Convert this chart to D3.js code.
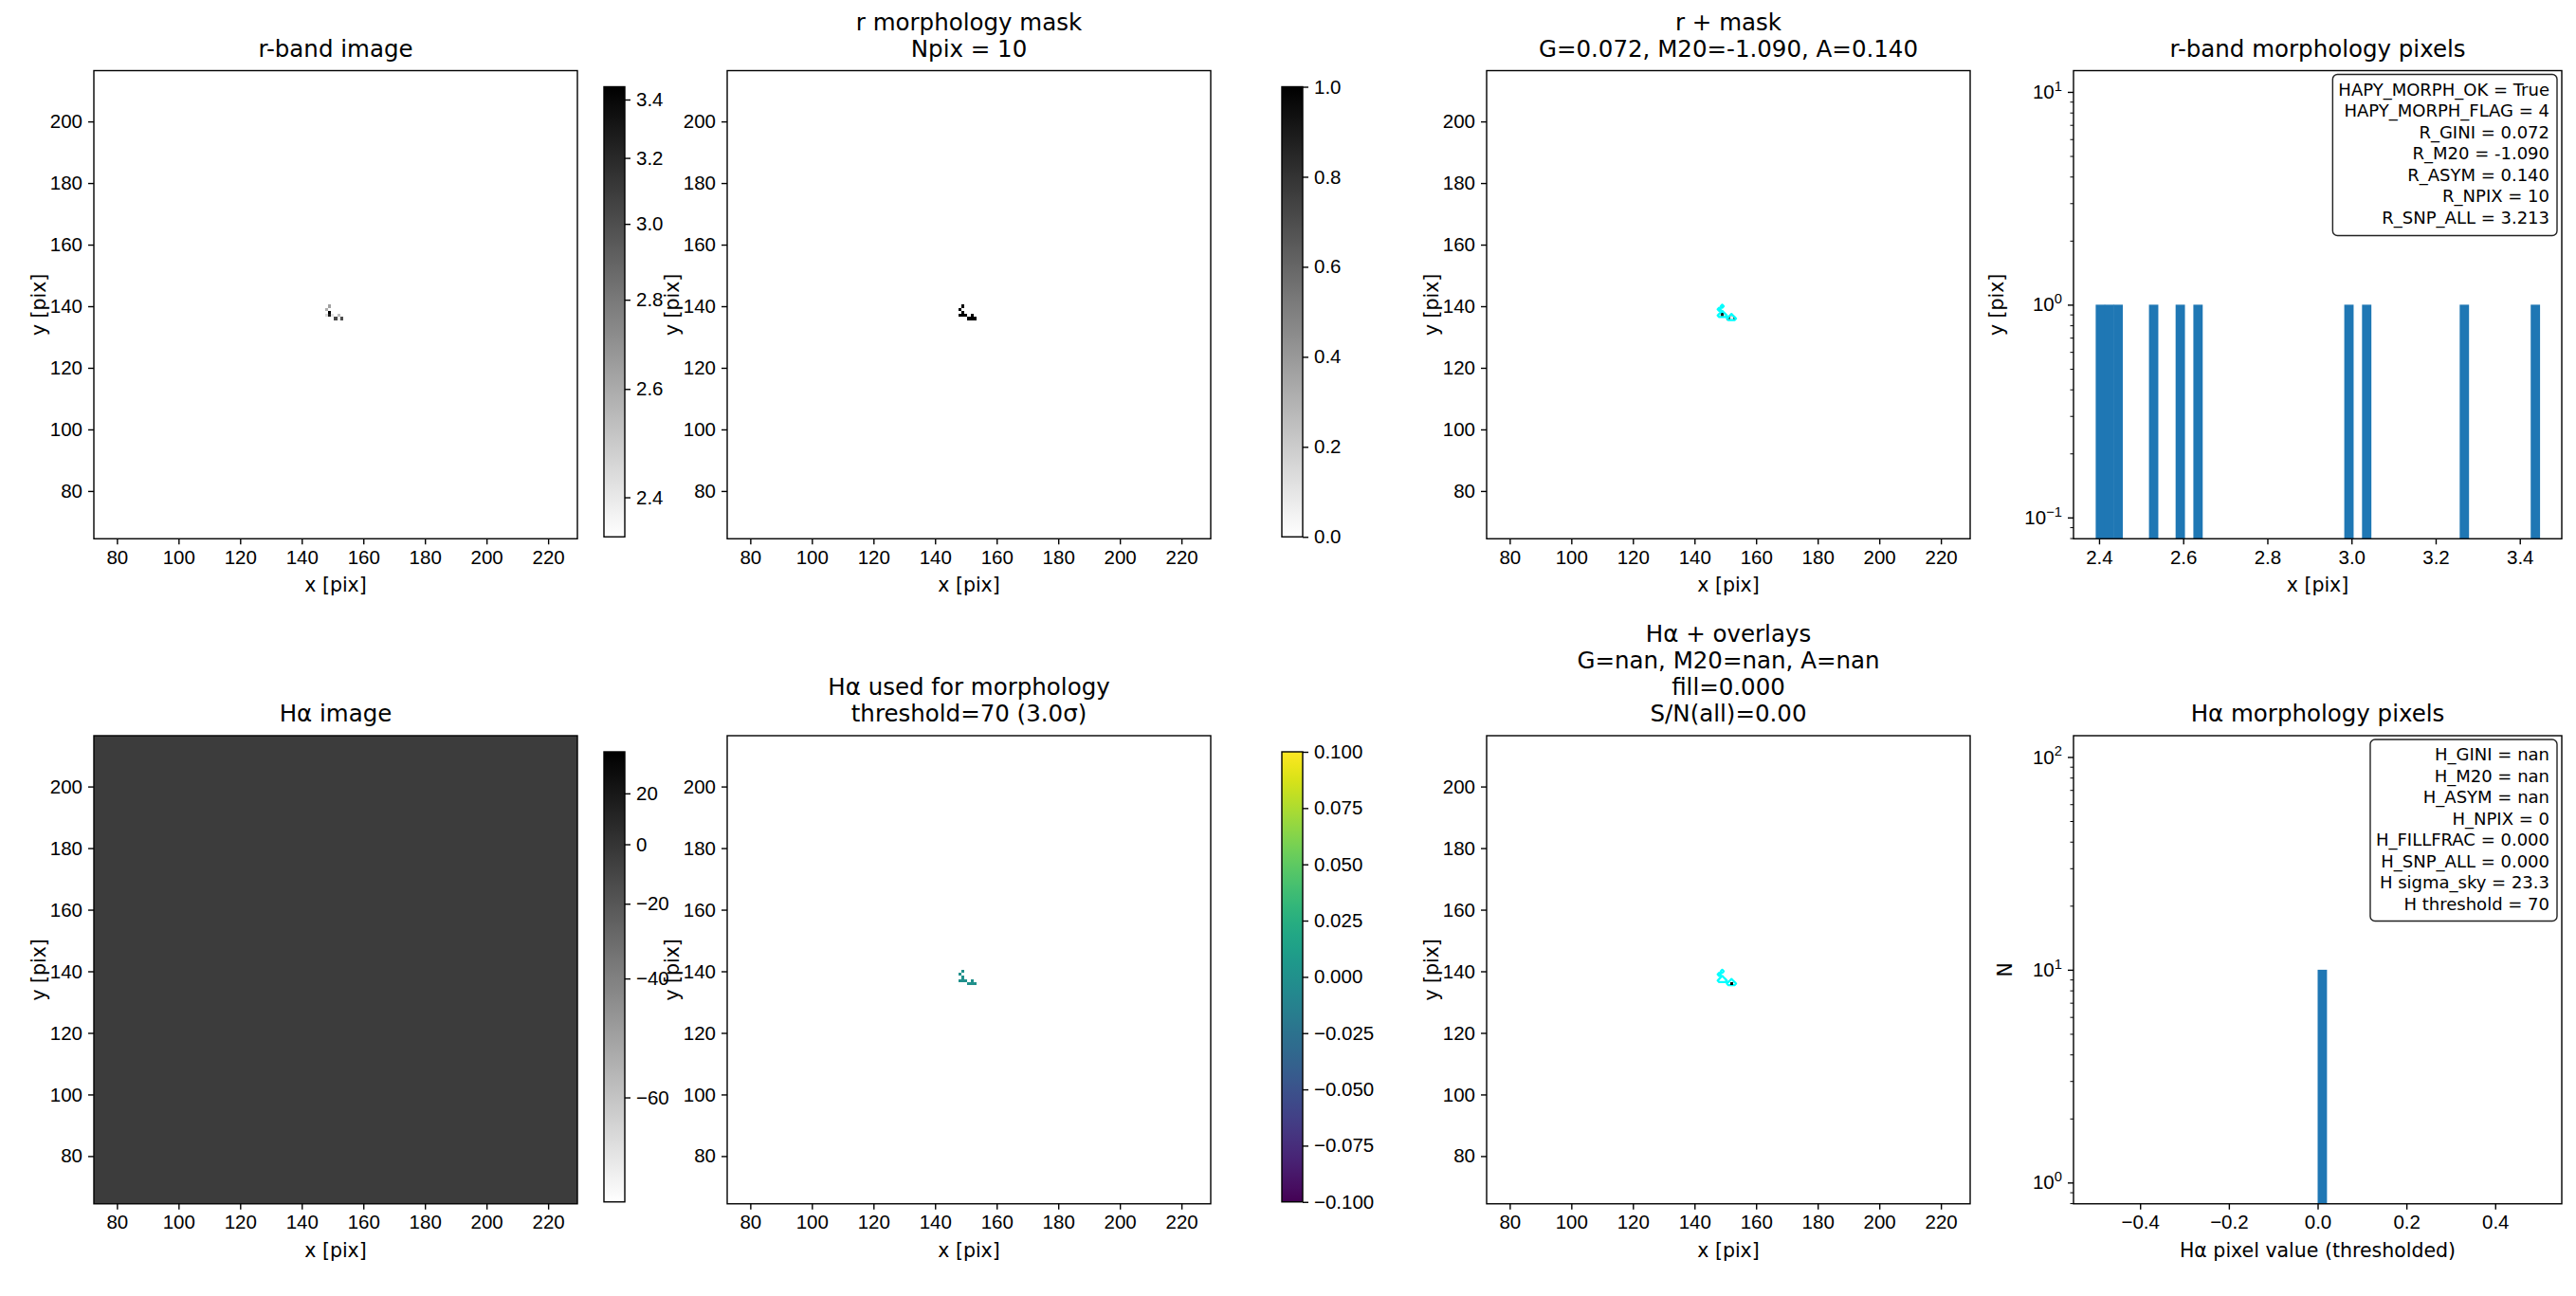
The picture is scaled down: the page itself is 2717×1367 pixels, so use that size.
<!DOCTYPE html>
<html>
<head>
<meta charset="utf-8">
<script src="https://cdn.jsdelivr.net/npm/d3@7"></script>
<style>
  body { margin: 0; background: #fff; }
  svg { display: block; }
</style>
</head>
<body>
<svg id="fig"></svg>
<script>
// ---- data ----
const X_TICKS = [80, 100, 120, 140, 160, 180, 200, 220];
const Y_TICKS = [80, 100, 120, 140, 160, 180, 200];
const IMG_XLIM = [72.5, 229.5];
const IMG_YLIM = [64.5, 216.5];

// r-band pixels of the morphology mask (x, y, value)
const R_PIX_X = [149, 148, 149, 149, 148, 150, 152, 151, 153, 152];
const R_PIX_Y = [140, 139, 138, 137, 137, 137, 137, 136, 136, 136];
const R_PIX_VAL = [2.637, 2.595, 3.447, 3.275, 2.44, 2.42, 2.53, 3.04, 2.997, 2.392];
// log stretch of the r colour bar: vmin, vmax and offset of the log
const R_NORM = [2.337, 3.447];
const R_NORM_OFFSET = 1.56;
const R_CBAR_TICKS = [2.4, 2.6, 2.8, 3.0, 3.2, 3.4];

const MASK_CBAR_TICKS = [0, 0.2, 0.4, 0.6, 0.8, 1.0];

// Hα: sky level (median of the noise), colour interval of the sqrt stretch
const HA_SKY = -5;
const HA_NORM = [-65.6, 38.3];
const HA_CBAR_TICKS = [-60, -40, -20, 0, 20];

// Hα thresholded values inside the mask
const HA_MORPH_VAL = [0, 0, 0, 0, 0, 0, 0, 0, 0, 0];
const HAM_CBAR_LIM = [-0.1, 0.1];
const HAM_CBAR_TICKS = [-0.1, -0.075, -0.05, -0.025, 0, 0.025, 0.05, 0.075, 0.1];
const HA_MARK = [152, 136];

const R_HIST_XTICKS = [2.4, 2.6, 2.8, 3.0, 3.2, 3.4];
const R_HIST_YLIM = [Math.pow(10, -1.1), Math.pow(10, 1.1)];
const R_HIST_YTICKS = [-1, 0, 1];
const H_HIST_RANGE = [-0.5, 0.5];
const H_HIST_XTICKS = [-0.4, -0.2, 0, 0.2, 0.4];
const H_HIST_YLIM = [Math.pow(10, -0.1), Math.pow(10, 2.1)];
const H_HIST_YTICKS = [0, 1, 2];
const N_BINS = 50;

const R_BOX_LINES = ["HAPY_MORPH_OK = True", "HAPY_MORPH_FLAG = 4", "R_GINI = 0.072",
  "R_M20 = -1.090", "R_ASYM = 0.140", "R_NPIX = 10", "R_SNP_ALL = 3.213"];
const H_BOX_LINES = ["H_GINI = nan", "H_M20 = nan", "H_ASYM = nan", "H_NPIX = 0",
  "H_FILLFRAC = 0.000", "H_SNP_ALL = 0.000", "H sigma_sky = 23.3", "H threshold = 70"];

// ---- layout ----
const W = 2717, H = 1367;
const FONT = "DejaVu Sans";
const FS_TICK = 20.5, FS_TITLE = 24.5, FS_BOX = 18;
const BOX_STEP = 22.5;
const COL_X = [99, 767, 1568, 2187];
const ROW_Y = [74.5, 776];
const IMG_W = 510;
const IMG_H = IMG_W * (IMG_YLIM[1] - IMG_YLIM[0]) / (IMG_XLIM[1] - IMG_XLIM[0]);
const HIST_W = 515;
const CBAR_X = [637, 1352];
const CBAR_W = 22;
const BAR_COLOR = "#1f77b4";

const svg = d3.select("#fig").attr("width", W).attr("height", H)
  .attr("font-family", FONT);
svg.append("rect").attr("width", W).attr("height", H).attr("fill", "#fff");
const defs = svg.append("defs");

const grayR = t => d3.interpolateRgb("#ffffff", "#000000")(Math.max(0, Math.min(1, t)));

// scale object usable by d3.axis: inner scale applied to (v - shift)
function shiftedScale(inner, shift, dom) {
  const s = v => inner(v - shift);
  s.copy = () => shiftedScale(inner.copy(), shift, dom);
  s.range = () => inner.range();
  s.domain = () => dom;
  return s;
}
function sqrtNorm(lim, range) {
  return shiftedScale(d3.scaleSqrt().domain([0, lim[1] - lim[0]]).range(range).clamp(true), lim[0], lim);
}
function logNorm(lim, c, range) {
  return shiftedScale(d3.scaleLog().domain([lim[0] - c, lim[1] - c]).range(range).clamp(true), c, lim);
}

function styleAxis(a) {
  a.select(".domain").remove();
  a.selectAll(".tick line").attr("stroke", "#000").attr("stroke-width", 1.4);
  a.selectAll("text").attr("font-size", FS_TICK).attr("fill", "#000");
}

function title(x, y, w, lines) {
  const t = svg.append("text").attr("text-anchor", "middle").attr("font-size", FS_TITLE);
  lines.forEach((s, i) => {
    t.append("tspan").attr("x", x + w / 2)
      .attr("y", y - 15 - (lines.length - 1 - i) * 28).text(s);
  });
}

function yLabel(axisG, x0, yMid, label, gap) {
  const bb = axisG.node().getBBox();
  const lx = x0 + bb.x - gap;
  svg.append("text").attr("transform", `translate(${lx},${yMid}) rotate(-90)`)
    .attr("text-anchor", "middle").attr("font-size", FS_TICK).text(label);
}

function xLabel(x, y, w, h, label) {
  svg.append("text").attr("x", x + w / 2).attr("y", y + h + 56)
    .attr("text-anchor", "middle").attr("font-size", FS_TICK).text(label);
}

function frame(g, w, h) {
  g.append("rect").attr("width", w).attr("height", h)
    .attr("fill", "none").attr("stroke", "#000").attr("stroke-width", 1.4);
}

let clipId = 0;
function imagePanel(col, row, titleLines) {
  const x0 = COL_X[col], y0 = ROW_Y[row];
  const xs = d3.scaleLinear().domain(IMG_XLIM).range([0, IMG_W]);
  const ys = d3.scaleLinear().domain(IMG_YLIM).range([IMG_H, 0]);
  const id = "clip" + (clipId++);
  defs.append("clipPath").attr("id", id).append("rect").attr("width", IMG_W).attr("height", IMG_H);
  const g = svg.append("g").attr("transform", `translate(${x0},${y0})`);
  const plot = g.append("g").attr("clip-path", `url(#${id})`);
  plot.append("rect").attr("width", IMG_W).attr("height", IMG_H).attr("fill", "#fff");

  const ax = g.append("g").attr("transform", `translate(0,${IMG_H})`)
    .call(d3.axisBottom(xs).tickValues(X_TICKS).tickSize(6).tickPadding(6));
  styleAxis(ax);
  const ay = g.append("g")
    .call(d3.axisLeft(ys).tickValues(Y_TICKS).tickSize(6).tickPadding(6));
  styleAxis(ay);

  title(x0, y0, IMG_W, titleLines);
  xLabel(x0, y0, IMG_W, IMG_H, "x [pix]");
  yLabel(ay, x0, y0 + IMG_H / 2, "y [pix]", 5);
  return { g, plot, xs, ys };
}

function drawPixels(p, xsArr, ysArr, colors) {
  p.plot.selectAll(null)
    .data(d3.range(xsArr.length))
    .enter()
    .append("rect")
    .attr("x", i => p.xs(xsArr[i] - 0.5))
    .attr("y", i => p.ys(ysArr[i] + 0.5))
    .attr("width", i => p.xs(xsArr[i] + 0.5) - p.xs(xsArr[i] - 0.5))
    .attr("height", i => p.ys(ysArr[i] - 0.5) - p.ys(ysArr[i] + 0.5))
    .attr("fill", i => colors[i])
    .attr("shape-rendering", "crispEdges");
}

function drawMaskContour(p) {
  const gx0 = d3.min(R_PIX_X) - 3, gy0 = d3.min(R_PIX_Y) - 3;
  const nx = d3.max(R_PIX_X) - gx0 + 4, ny = d3.max(R_PIX_Y) - gy0 + 4;
  const grid = new Array(nx * ny).fill(0);
  R_PIX_X.forEach((x, i) => { grid[(x - gx0) + (R_PIX_Y[i] - gy0) * nx] = 1; });
  const contours = d3.contours().size([nx, ny]).thresholds([0.5])(grid);
  const proj = d3.geoTransform({
    point: function (u, v) { this.stream.point(p.xs(gx0 + u - 0.5), p.ys(gy0 + v - 0.5)); }
  });
  p.plot.selectAll(null)
    .data(contours)
    .enter()
    .append("path")
    .attr("d", d3.geoPath(proj))
    .attr("fill", "none")
    .attr("stroke", "#00ffff")
    .attr("stroke-width", 2.2)
    .attr("stroke-linejoin", "round");
}

let gradId = 0;
function colorbar(col, row, colorFn, scaleFor, ticks, fmt) {
  const x0 = CBAR_X[col];
  const y0 = ROW_Y[row] + 17;
  const h = IMG_H - 19;
  const id = "grad" + (gradId++);
  const grad = defs.append("linearGradient").attr("id", id)
    .attr("x1", 0).attr("y1", 1).attr("x2", 0).attr("y2", 0);
  d3.range(0, 1.0001, 1 / 32).forEach(t => {
    grad.append("stop").attr("offset", t).attr("stop-color", colorFn(t));
  });
  const g = svg.append("g").attr("transform", `translate(${x0},${y0})`);
  g.append("rect").attr("width", CBAR_W).attr("height", h).attr("fill", `url(#${id})`);
  const s = scaleFor([h, 0]);
  const a = g.append("g").attr("transform", `translate(${CBAR_W},0)`)
    .call(d3.axisRight(s).tickValues(ticks).tickFormat(fmt).tickSize(6).tickPadding(6));
  styleAxis(a);
  frame(g, CBAR_W, h);
}

function histPanel(row, values, binDomain, xTicks, xFmt, yLim, yDecades, titleText, xLab, yLab, boxLines) {
  const x0 = COL_X[3], y0 = ROW_Y[row];
  const w = HIST_W, h = IMG_H;
  const step = (binDomain[1] - binDomain[0]) / N_BINS;
  const bins = d3.bin()
    .domain(binDomain)
    .thresholds(d3.range(1, N_BINS).map(i => binDomain[0] + i * step))(values);
  const span = binDomain[1] - binDomain[0];
  const xs = d3.scaleLinear()
    .domain([binDomain[0] - 0.05 * span, binDomain[1] + 0.05 * span]).range([0, w]);
  const ys = d3.scaleLog().domain(yLim).range([h, 0]);

  const id = "clip" + (clipId++);
  defs.append("clipPath").attr("id", id).append("rect").attr("width", w).attr("height", h);
  const g = svg.append("g").attr("transform", `translate(${x0},${y0})`);
  const plot = g.append("g").attr("clip-path", `url(#${id})`);

  plot.selectAll(".bar")
    .data(bins.filter(b => b.length > 0))
    .enter()
    .append("rect")
    .attr("class", "bar")
    .attr("x", b => xs(b.x0))
    .attr("width", b => xs(b.x1) - xs(b.x0) + 0.5)
    .attr("y", b => ys(b.length))
    .attr("height", b => h - ys(b.length))
    .attr("fill", BAR_COLOR);

  const ax = g.append("g").attr("transform", `translate(0,${h})`)
    .call(d3.axisBottom(xs).tickValues(xTicks).tickFormat(xFmt).tickSize(6).tickPadding(6));
  styleAxis(ax);

  // minor log ticks
  const minors = [];
  const lo = Math.floor(Math.log10(yLim[0])), hi = Math.ceil(Math.log10(yLim[1]));
  for (let k = lo; k <= hi; k++) {
    for (let m = 2; m <= 9; m++) {
      const v = m * Math.pow(10, k);
      if (v > yLim[0] && v < yLim[1]) minors.push(v);
    }
  }
  const aMinor = g.append("g")
    .call(d3.axisLeft(ys).tickValues(minors).tickFormat(() => "").tickSize(3.5));
  aMinor.select(".domain").remove();
  aMinor.selectAll(".tick line").attr("stroke", "#000").attr("stroke-width", 1);

  const ay = g.append("g")
    .call(d3.axisLeft(ys).tickValues(yDecades.map(k => Math.pow(10, k)))
      .tickFormat(() => "").tickSize(6).tickPadding(6));
  styleAxis(ay);
  ay.selectAll(".tick text").each(function (d) {
    const t = d3.select(this);
    const k = Math.round(Math.log10(d));
    t.append("tspan").text("10");
    t.append("tspan").attr("dy", "-0.55em").attr("font-size", FS_TICK * 0.72)
      .text(k < 0 ? "\u2212" + (-k) : String(k));
  });

  frame(g, w, h);

  // stats box, top right
  const box = g.append("g");
  const right = w - 5 - 8;
  const top = 4 + 8 + FS_BOX * 0.78;
  const tx = box.append("g");
  boxLines.forEach((s, i) => {
    tx.append("text").attr("x", right).attr("y", top + i * BOX_STEP)
      .attr("text-anchor", "end").attr("font-size", FS_BOX).text(s);
  });
  const bb = tx.node().getBBox();
  box.insert("rect", ":first-child")
    .attr("x", bb.x - 6).attr("y", 4)
    .attr("width", right + 8 - (bb.x - 6)).attr("height", bb.y + bb.height + 8 - 4)
    .attr("rx", 5).attr("ry", 5)
    .attr("fill", "#fff").attr("fill-opacity", 0.8)
    .attr("stroke", "#222").attr("stroke-width", 1.4);

  title(x0, y0, w, [titleText]);
  xLabel(x0, y0, w, h, xLab);
  yLabel(ay, x0, y0 + h / 2, yLab, 22);
}

// ---- row 1: r band ----
const rNorm = logNorm(R_NORM, R_NORM_OFFSET, [0, 1]);

const p1 = imagePanel(0, 0, ["r-band image"]);
drawPixels(p1, R_PIX_X, R_PIX_Y, R_PIX_VAL.map(v => grayR(rNorm(v))));
frame(p1.g, IMG_W, IMG_H);
colorbar(0, 0, grayR, r => logNorm(R_NORM, R_NORM_OFFSET, r), R_CBAR_TICKS, d3.format(".1f"));

const p2 = imagePanel(1, 0, ["r morphology mask", "Npix = " + R_PIX_X.length]);
drawPixels(p2, R_PIX_X, R_PIX_Y, R_PIX_X.map(() => grayR(1)));
frame(p2.g, IMG_W, IMG_H);
colorbar(1, 0, grayR, r => d3.scaleLinear().domain([0, 1]).range(r), MASK_CBAR_TICKS, d3.format(".1f"));

const p3 = imagePanel(2, 0, ["r + mask", "G=0.072, M20=-1.090, A=0.140"]);
drawPixels(p3, R_PIX_X, R_PIX_Y, R_PIX_VAL.map(v => grayR(rNorm(v))));
drawMaskContour(p3);
frame(p3.g, IMG_W, IMG_H);

histPanel(0, R_PIX_VAL, d3.extent(R_PIX_VAL), R_HIST_XTICKS, d3.format(".1f"), R_HIST_YLIM, R_HIST_YTICKS,
  "r-band morphology pixels", "x [pix]", "y [pix]", R_BOX_LINES);

// ---- row 2: Hα ----
const haNorm = sqrtNorm(HA_NORM, [0, 1]);
const p5 = imagePanel(0, 1, ["H\u03b1 image"]);
p5.plot.append("rect")
  .attr("x", p5.xs(IMG_XLIM[0])).attr("y", p5.ys(IMG_YLIM[1]))
  .attr("width", p5.xs(IMG_XLIM[1]) - p5.xs(IMG_XLIM[0]))
  .attr("height", p5.ys(IMG_YLIM[0]) - p5.ys(IMG_YLIM[1]))
  .attr("fill", grayR(haNorm(HA_SKY)));
frame(p5.g, IMG_W, IMG_H);
colorbar(0, 1, grayR, r => sqrtNorm(HA_NORM, r), HA_CBAR_TICKS, d3.format("d"));

const hamNorm = d3.scaleLinear().domain(HAM_CBAR_LIM).range([0, 1]);
const p6 = imagePanel(1, 1, ["H\u03b1 used for morphology", "threshold=70 (3.0\u03c3)"]);
drawPixels(p6, R_PIX_X, R_PIX_Y, HA_MORPH_VAL.map(v => d3.interpolateViridis(hamNorm(v))));
frame(p6.g, IMG_W, IMG_H);
colorbar(1, 1, d3.interpolateViridis, r => d3.scaleLinear().domain(HAM_CBAR_LIM).range(r),
  HAM_CBAR_TICKS, d3.format(".3f"));

const p7 = imagePanel(2, 1, ["H\u03b1 + overlays", "G=nan, M20=nan, A=nan", "fill=0.000", "S/N(all)=0.00"]);
drawMaskContour(p7);
drawPixels(p7, [HA_MARK[0]], [HA_MARK[1]], ["#000"]);
frame(p7.g, IMG_W, IMG_H);

histPanel(1, HA_MORPH_VAL, H_HIST_RANGE, H_HIST_XTICKS, d3.format(".1f"), H_HIST_YLIM, H_HIST_YTICKS,
  "H\u03b1 morphology pixels", "H\u03b1 pixel value (thresholded)", "N", H_BOX_LINES);
</script>
</body>
</html>
